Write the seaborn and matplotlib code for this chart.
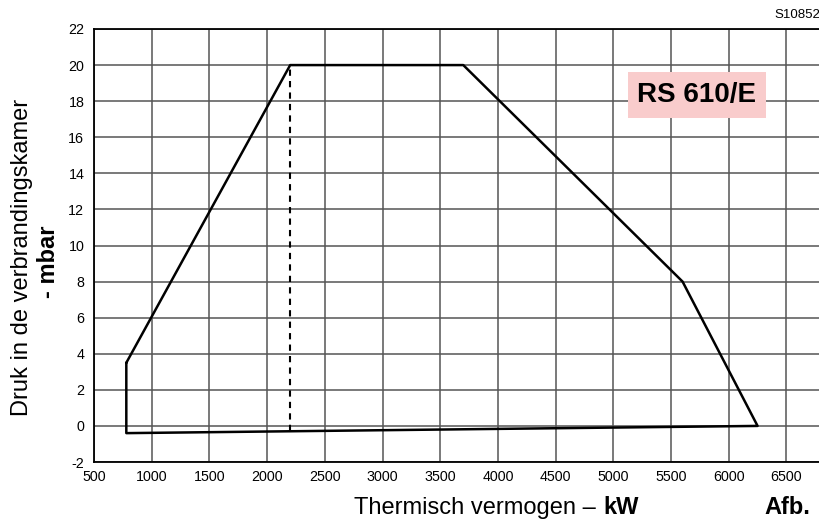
import numpy as np
import pandas as pd
import matplotlib
matplotlib.use('Agg')
import matplotlib.pyplot as plt
import seaborn as sns

# working field outline (kW, mbar), closed polygon
field_kw = [780, 2200, 3700, 5600, 6250, 780, 780]
field_mbar = [3.5, 20, 20, 8, 0, -0.4, 3.5]

# dashed limit line
limit_kw = [2200, 2200]
limit_mbar = [-0.3, 20]

x_ticks = [500, 1000, 1500, 2000, 2500, 3000, 3500, 4000, 4500, 5000, 5500, 6000, 6500]
y_ticks = [-2, 0, 2, 4, 6, 8, 10, 12, 14, 16, 18, 20, 22]

sns.set_style('white')
plt.rcParams['font.family'] = ['Liberation Sans', 'DejaVu Sans']
plt.rcParams['text.color'] = 'black'
plt.rcParams['xtick.color'] = 'black'
plt.rcParams['ytick.color'] = 'black'
plt.rcParams['axes.unicode_minus'] = False

fig = plt.figure(figsize=(8.2, 5.2), dpi=100)
ax = fig.add_axes([94 / 820, 1 - 462 / 520, 1 - 94 / 820, (462 - 29) / 520])

field = pd.DataFrame({'kw': field_kw, 'mbar': field_mbar})
limit = pd.DataFrame({'kw': limit_kw, 'mbar': limit_mbar})

sns.lineplot(data=field, x='kw', y='mbar', sort=False, estimator=None,
             color='black', linewidth=1.8, ax=ax, zorder=3)
sns.lineplot(data=limit, x='kw', y='mbar', sort=False, estimator=None,
             color='black', linewidth=1.5, linestyle=(0, (3, 2.5)), ax=ax, zorder=3)

ax.set_xlim(500, 6791)
ax.set_ylim(-2, 22)
ax.set_xticks(x_ticks)
ax.set_yticks(y_ticks)
ax.tick_params(axis='both', labelsize=10.3, labelcolor='black')
ax.tick_params(axis='y', length=4, width=1, color='#444444', pad=3)
ax.tick_params(axis='x', length=0, pad=6)
ax.grid(True, color='#555555', linewidth=1.1)
ax.set_axisbelow(True)
for s in ['left', 'bottom', 'top']:
    ax.spines[s].set_color('black')
    ax.spines[s].set_linewidth(1.3)
ax.spines['right'].set_visible(False)
ax.set_xlabel('')
ax.set_ylabel('')

# model box
ax.text(5725, 18.34, 'RS 610/E', fontsize=20, fontweight='bold', ha='center', va='center',
        color='black',
        bbox=dict(boxstyle='square,pad=0.35', facecolor='#f9cccc', edgecolor='none'), zorder=4)

# labels
fig.text(603 / 820, 1 - 508 / 520, 'Thermisch vermogen – ', fontsize=17, ha='right', va='center')
fig.text(603 / 820, 1 - 508 / 520, 'kW', fontsize=17, fontweight='bold', ha='left', va='center')
fig.text(22 / 820, 1 - 257 / 520, 'Druk in de verbrandingskamer', fontsize=17,
         rotation=90, ha='center', va='center')
fig.text(49 / 820, 1 - 262 / 520, '- mbar', fontsize=17, fontweight='bold',
         rotation=90, ha='center', va='center')
fig.text(764 / 820, 1 - 508 / 520, 'Afb.', fontsize=17, fontweight='bold', ha='left', va='center')
fig.text(1.0, 1 - 15 / 520, 'S10852', fontsize=9.5, ha='right', va='center')

fig.savefig('out.png', dpi=100)
